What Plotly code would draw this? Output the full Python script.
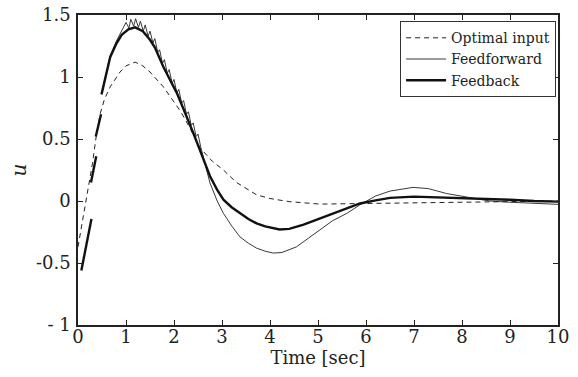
import plotly.graph_objects as go

# Optimal input (dashed)
t_opt = [0.0, 0.1, 0.2, 0.3, 0.39, 0.46, 0.55, 0.67, 0.875, 1.0, 1.19, 1.35, 1.5, 1.78, 2.125,
         2.33, 2.54, 2.8, 3.03, 3.3, 3.72, 4.0, 4.4, 5.04, 6.0, 7.0, 8.0, 9.0, 10.0]
u_opt = [-0.37, -0.15, 0.05, 0.3, 0.55, 0.7, 0.82, 0.92, 1.04, 1.09, 1.12, 1.09, 1.04, 0.92, 0.73,
         0.59, 0.43, 0.32, 0.25, 0.15, 0.05, 0.02, -0.005, -0.025, -0.02, -0.015, -0.01, -0.005, 0.0]

# Feedforward (thin, with sawtooth ripple on the descent)
t_ff = [0.49, 0.58, 0.67, 0.8, 0.9,
        1.0, 1.06, 1.1, 1.16, 1.2, 1.26, 1.3, 1.36, 1.4, 1.46, 1.5, 1.56, 1.6, 1.66, 1.7, 1.76,
        1.8, 1.86, 1.9, 1.96, 2.0, 2.06, 2.1, 2.16, 2.2, 2.26, 2.3, 2.36, 2.4, 2.46, 2.5, 2.56,
        2.66, 2.75, 2.9, 3.03, 3.2, 3.375, 3.55, 3.72, 3.9, 4.07, 4.25, 4.55, 4.8, 5.04, 5.3, 5.6,
        5.875, 6.2, 6.5, 6.98, 7.3, 7.68, 8.1, 8.58, 9.0, 9.5, 10.0]
u_ff = [0.86, 1.03, 1.17, 1.29, 1.36,
        1.44, 1.395, 1.465, 1.41, 1.47, 1.40, 1.45, 1.37, 1.42, 1.33, 1.37, 1.275, 1.31, 1.20, 1.22, 1.11,
        1.14, 1.03, 1.06, 0.95, 0.98, 0.87, 0.90, 0.79, 0.81, 0.70, 0.72, 0.61, 0.63, 0.52, 0.54, 0.43,
        0.29, 0.145, 0.0, -0.1, -0.2, -0.29, -0.34, -0.38, -0.405, -0.42, -0.415, -0.37, -0.30, -0.23, -0.16, -0.1,
        -0.03, 0.04, 0.08, 0.11, 0.1, 0.06, 0.03, 0.0, -0.01, -0.02, -0.027]

# Feedback (thick, broken at the start)
t_fb = [0.07, 0.28, None, 0.27, 0.38, None, 0.37, 0.48, None,
        0.49, 0.58, 0.67, 0.8, 0.91, 1.05, 1.19, 1.35, 1.5, 1.6, 1.7, 1.78, 1.9, 2.06, 2.2, 2.3,
        2.42, 2.54, 2.65, 2.75, 2.9, 3.03, 3.2, 3.375, 3.55, 3.72, 3.9, 4.2, 4.4, 4.7, 5.04, 5.39, 5.6,
        5.875, 6.2, 6.5, 7.0, 7.5, 8.0, 8.5, 9.0, 9.5, 10.0]
u_fb = [-0.56, -0.145, None, 0.15, 0.36, None, 0.52, 0.70, None,
        0.86, 1.02, 1.16, 1.27, 1.34, 1.385, 1.40, 1.37, 1.30, 1.24, 1.15, 1.08, 0.99, 0.87, 0.74, 0.65,
        0.53, 0.41, 0.30, 0.2, 0.09, 0.01, -0.05, -0.1, -0.145, -0.18, -0.205, -0.23, -0.225, -0.19, -0.14, -0.086, -0.06,
        -0.02, 0.005, 0.025, 0.035, 0.03, 0.025, 0.015, 0.01, 0.0, -0.005]

x_ticks = [0, 1, 2, 3, 4, 5, 6, 7, 8, 9, 10]
y_ticks = [-1, -0.5, 0, 0.5, 1, 1.5]
y_ticktext = ["- 1", "-0.5", "0", "0.5", "1", "1.5"]

FONT = "DejaVu Serif"

fig = go.Figure()
fig.add_trace(go.Scatter(x=t_opt, y=u_opt, mode="lines", name="Optimal input",
                         line=dict(color="#222", width=1, dash="5px,4px")))
fig.add_trace(go.Scatter(x=t_ff, y=u_ff, mode="lines", name="Feedforward",
                         line=dict(color="#222", width=0.9)))
fig.add_trace(go.Scatter(x=t_fb, y=u_fb, mode="lines", name="Feedback",
                         line=dict(color="#111", width=2.4), connectgaps=False))

axis_common = dict(showgrid=False, zeroline=False, showline=True, linecolor="#222", linewidth=1.5,
                   mirror="ticks", ticks="inside", ticklen=5, tickcolor="#222", tickwidth=1,
                   automargin=False,
                   tickfont=dict(family=FONT, size=18, color="#222"))

fig.update_layout(
    width=578, height=377,
    margin=dict(l=78, r=20, t=15, b=52),
    paper_bgcolor="white", plot_bgcolor="white",
    font=dict(family=FONT, color="#222"),
    xaxis=dict(range=[0, 10], tickvals=x_ticks, **axis_common, ticklabelstandoff=-5,
               title=dict(text="Time [sec]", font=dict(family=FONT, size=18), standoff=0)),
    yaxis=dict(range=[-1, 1.5], tickvals=y_ticks, ticktext=y_ticktext, **axis_common,
               ticklabelstandoff=2,
               title=dict(text="<i>u</i>", font=dict(family=FONT, size=20), standoff=4)),
    legend=dict(x=0.996, y=0.98, xanchor="right", yanchor="top",
                bgcolor="white", bordercolor="#333", borderwidth=1,
                font=dict(family=FONT, size=14, color="#222"), tracegroupgap=0,
                itemwidth=40),
    showlegend=True,
)

fig.write_html("out.html", config={"displayModeBar": False},
               post_script="document.body.style.margin='0';")
